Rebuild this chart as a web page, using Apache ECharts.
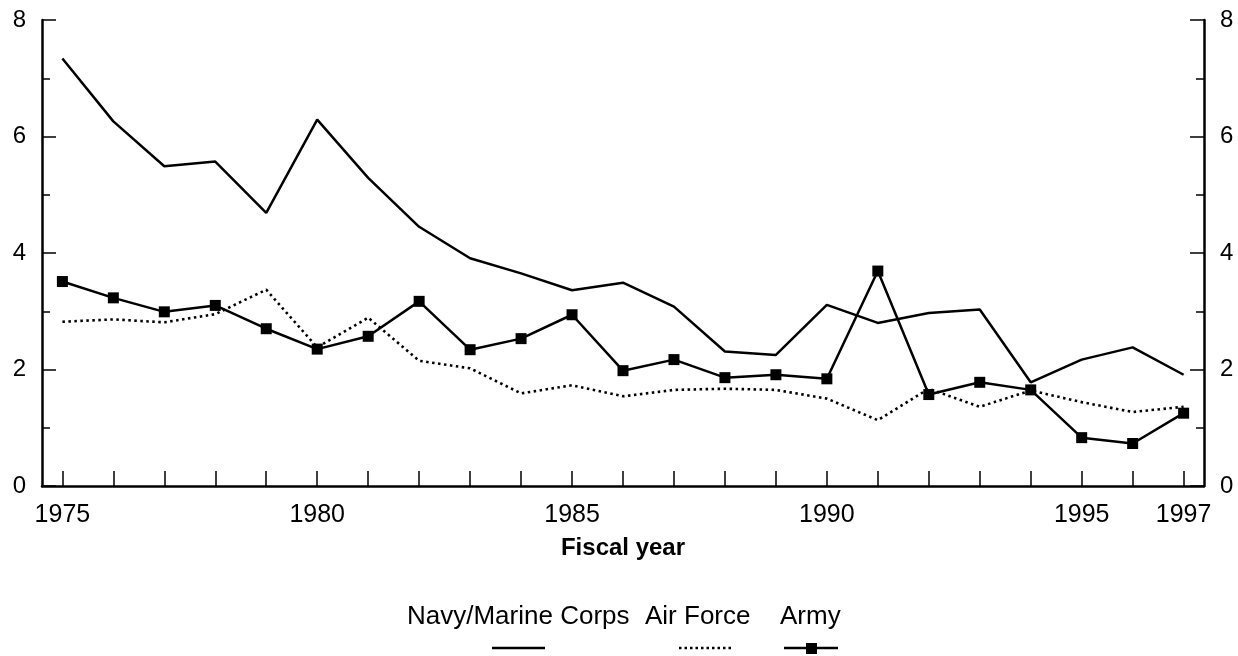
<!DOCTYPE html>
<html>
<head>
<meta charset="utf-8">
<script src="https://cdn.jsdelivr.net/npm/echarts@6/dist/echarts.min.js"></script>
<style>
  html, body {margin: 0; padding: 0; background: #fff;}
  #chart {width: 1238px; height: 656px;}
</style>
</head>
<body>
<div id="chart"></div>
<script>
// fiscal years on the x axis
var years = [1975, 1976, 1977, 1978, 1979, 1980, 1981, 1982, 1983, 1984, 1985, 1986,
             1987, 1988, 1989, 1990, 1991, 1992, 1993, 1994, 1995, 1996, 1997];
var yearLabels = [1975, 1980, 1985, 1990, 1995, 1997];

// values
var navy = [7.34, 6.26, 5.49, 5.57, 4.69, 6.29, 5.29, 4.45, 3.91, 3.65, 3.36, 3.49,
            3.08, 2.31, 2.25, 3.11, 2.80, 2.97, 3.03, 1.78, 2.17, 2.38, 1.91];
var airForce = [2.82, 2.86, 2.81, 2.95, 3.37, 2.38, 2.89, 2.15, 2.02, 1.59, 1.73, 1.54,
                1.65, 1.67, 1.65, 1.50, 1.13, 1.67, 1.36, 1.64, 1.44, 1.27, 1.36];
var army = [3.51, 3.23, 2.99, 3.10, 2.70, 2.35, 2.57, 3.17, 2.34, 2.53, 2.94, 1.98,
            2.17, 1.86, 1.91, 1.84, 3.69, 1.57, 1.78, 1.65, 0.83, 0.73, 1.25];

var seriesNames = ['Navy/Marine Corps', 'Air Force', 'Army'];
var yTicks = [0, 2, 4, 6, 8];

var FONT = 'Liberation Sans, Arial, Helvetica, sans-serif';

function pairs(vals) {
    return years.map(function (y, i) { return [y, vals[i]]; });
}

function yAxisCfg(pos) {
    return {
        type: 'value', position: pos,
        min: yTicks[0], max: yTicks[yTicks.length - 1], interval: 2,
        axisLine: {show: true, lineStyle: {color: '#000', width: 2.5}},
        axisTick: {show: true, inside: true, length: 14, lineStyle: {color: '#000', width: 1.5}},
        minorTick: {show: true, splitNumber: 2, length: 8, lineStyle: {color: '#000', width: 1.5}},
        axisLabel: {margin: 16, color: '#000', fontSize: 24, fontFamily: FONT},
        splitLine: {show: false}
    };
}

var option = {
    animation: false,
    backgroundColor: '#fff',
    grid: {left: 42, right: 34, top: 20, bottom: 170, containLabel: false, outerBoundsMode: 'none'},
    xAxis: {
        type: 'value',
        min: 1974.6, max: 1997.4,
        name: 'Fiscal year',
        nameLocation: 'middle', nameGap: 50,
        nameTextStyle: {color: '#000', fontSize: 24, fontWeight: 'bold', fontFamily: FONT},
        axisLine: {show: true, onZero: false, lineStyle: {color: '#000', width: 2.5}},
        axisTick: {show: true, inside: true, length: 15, customValues: years,
                   lineStyle: {color: '#000', width: 1.5}},
        axisLabel: {customValues: yearLabels, margin: 17, color: '#000', fontSize: 25, fontFamily: FONT,
                    formatter: function (v) { return String(v); }},
        splitLine: {show: false}
    },
    yAxis: [yAxisCfg('left'), yAxisCfg('right')],
    series: [
        {
            name: seriesNames[0], type: 'line', data: pairs(navy),
            symbol: 'none', lineStyle: {color: '#000', width: 2.5}
        },
        {
            name: seriesNames[1], type: 'line', data: pairs(airForce),
            symbol: 'none', lineStyle: {color: '#000', width: 2.6, type: [2.5, 3.5]}
        },
        {
            name: seriesNames[2], type: 'line', data: pairs(army),
            symbol: 'rect', symbolSize: 11,
            itemStyle: {color: '#000'}, lineStyle: {color: '#000', width: 2.5}
        }
    ],
    // legend: names on top, line samples underneath
    graphic: [
        {type: 'text', left: 407, top: 604, style: {text: seriesNames[0], fill: '#000', font: '26px ' + FONT}},
        {type: 'text', left: 645, top: 604, style: {text: seriesNames[1], fill: '#000', font: '26px ' + FONT}},
        {type: 'text', left: 780, top: 604, style: {text: seriesNames[2], fill: '#000', font: '26px ' + FONT}},
        {type: 'line', shape: {x1: 492, y1: 648, x2: 545, y2: 648}, style: {stroke: '#000', lineWidth: 2.5}},
        {type: 'line', shape: {x1: 679, y1: 648, x2: 733, y2: 648}, style: {stroke: '#000', lineWidth: 2.5, lineDash: [2.5, 3]}},
        {type: 'line', shape: {x1: 784, y1: 648, x2: 838, y2: 648}, style: {stroke: '#000', lineWidth: 2.5}},
        {type: 'rect', shape: {x: 806, y: 643, width: 11, height: 11}, style: {fill: '#000'}}
    ]
};

var myChart = echarts.init(document.getElementById('chart'));
myChart.setOption(option);
</script>
</body>
</html>
